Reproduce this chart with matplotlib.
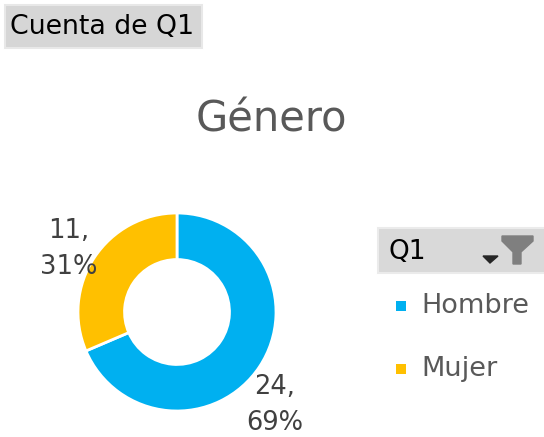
import numpy as np
import matplotlib.pyplot as plt
from matplotlib.patches import Rectangle, Polygon

# datos del gráfico
categorias = ["Hombre", "Mujer"]
cuentas = [24, 11]
colores = ["#00b0f0", "#ffc000"]
titulo = "Género"

total = sum(cuentas)
porcentajes = [round(100 * c / total) for c in cuentas]

W, H = 544, 437
fig = plt.figure(figsize=(W / 100, H / 100), dpi=100)

# capa para textos y botones, en pixeles (encima del donut)
over = fig.add_axes([0, 0, 1, 1])
over.set_xlim(0, W)
over.set_ylim(H, 0)
over.axis("off")
over.set_zorder(2)

# boton "Cuenta de Q1"
over.add_patch(Rectangle((5, 5), 197, 43, facecolor="#d6d6d6", edgecolor="#e8e8e8", lw=1.5))
over.text(10, 27, "Cuenta de Q1", fontsize=19.3, color="#000000", va="center", ha="left")

# titulo
over.text(271, 119, titulo, fontsize=30, color="#595959", ha="center", va="center")

# donut
cx, cy, r = 177, 312, 99
ax = fig.add_axes([(cx - r) / W, (H - cy - r) / H, 2 * r / W, 2 * r / H])
ax.pie(cuentas, colors=colores, startangle=90, counterclock=False,
       wedgeprops=dict(width=0.47, edgecolor="white", linewidth=2))
ax.set_xlim(-1, 1)
ax.set_ylim(-1, 1)
ax.axis("off")

# etiquetas de datos
pos_etiquetas = [(275, 405), (69, 249)]
for (x, y), c, p in zip(pos_etiquetas, cuentas, porcentajes):
    over.text(x, y, f"{c},\n{p}%", fontsize=18.5, color="#404040",
              ha="center", va="center", linespacing=1.5)

# cabecera de la leyenda
over.add_patch(Rectangle((378, 228), 170, 45, facecolor="#d9d9d9", edgecolor="#ebebeb", lw=1.5))
over.text(388, 252, "Q1", fontsize=19, color="#000000", va="center", ha="left")
over.add_patch(Polygon([[483, 256], [498, 256], [490, 263]], closed=True, color="#262626"))
over.add_patch(Polygon([[502, 236], [533, 236], [533, 241], [521, 252], [521, 264],
                        [513, 264], [513, 252], [502, 241]], closed=True, color="#7f7f7f"))

# entradas de la leyenda
ys = [306, 369]
for y, cat, col in zip(ys, categorias, colores):
    over.add_patch(Rectangle((396, y - 5), 10, 10, facecolor=col, edgecolor="none"))
    over.text(421, y, cat, fontsize=19.5, color="#595959", va="center", ha="left")

fig.savefig("out.png", dpi=100)
